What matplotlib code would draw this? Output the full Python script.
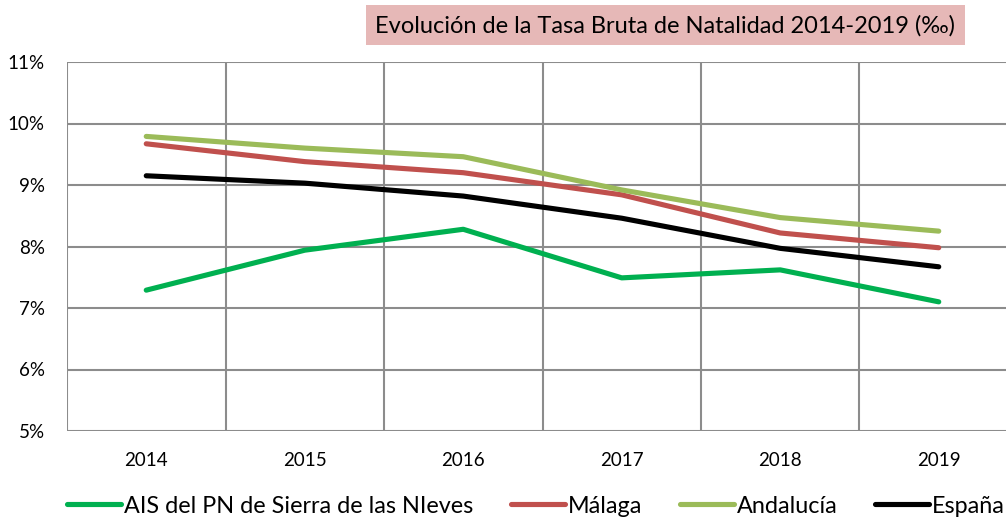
import matplotlib.pyplot as plt
from matplotlib.patches import Rectangle

plt.rcParams['font.family'] = ['Lato', 'DejaVu Sans']

years = ['2014', '2015', '2016', '2017', '2018', '2019']
ais = [7.29, 7.94, 8.28, 7.49, 7.62, 7.10]
malaga = [9.67, 9.38, 9.20, 8.84, 8.22, 7.98]
andalucia = [9.79, 9.60, 9.46, 8.92, 8.47, 8.25]
espana = [9.15, 9.03, 8.82, 8.46, 7.97, 7.67]

series_names = ['AIS del PN de Sierra de las NIeves', 'Málaga', 'Andalucía', 'España']
series_colors = ['#00b050', '#c0504d', '#9bbb59', '#000000']
yticks = [5, 6, 7, 8, 9, 10, 11]

fig = plt.figure(figsize=(10.06, 5.22), dpi=100)
ax = fig.add_axes([67 / 1006, 91 / 522, 951 / 1006, 369 / 522])

x = range(len(years))
for vals, name, col in zip([ais, malaga, andalucia, espana], series_names, series_colors):
    ax.plot(x, vals, color=col, lw=3.7, solid_capstyle='round', label=name, zorder=3)

ax.set_xlim(-0.5, len(years) - 0.5)
ax.set_ylim(5, 11)
ax.set_yticks(yticks)
ax.set_yticklabels([f'{v}%' for v in yticks])
ax.set_xticks(list(x))
ax.set_xticklabels(years)

ax.grid(False)
for v in yticks:
    ax.axhline(v, color='#8c8c8c', lw=1.5, zorder=1)
for i in range(-1, len(years)):
    ax.axvline(i + 0.5, color='#8c8c8c', lw=1.5, zorder=1)
for s in ax.spines.values():
    s.set_visible(False)
ax.tick_params(axis='both', which='both', length=0, labelsize=13.5, colors='#000000')
ax.tick_params(axis='y', pad=16)
ax.tick_params(axis='x', pad=15)

# title in a shaded box
fig.patches.append(Rectangle((366 / 1006, 1 - 45 / 522), 599 / 1006, 40 / 522,
                             transform=fig.transFigure, facecolor='#e6b8b7',
                             edgecolor='none'))
fig.text(665 / 1006, 1 - 26 / 522, 'Evolución de la Tasa Bruta de Natalidad 2014-2019 (‰)',
         ha='center', va='center', fontsize=17)

fig.legend(loc='lower center', bbox_to_anchor=(536 / 1006, -0.03), ncol=4,
           frameon=False, fontsize=16.8, handlelength=2.3, handletextpad=0.12,
           columnspacing=1.63)

fig.savefig('out.png', dpi=100)
